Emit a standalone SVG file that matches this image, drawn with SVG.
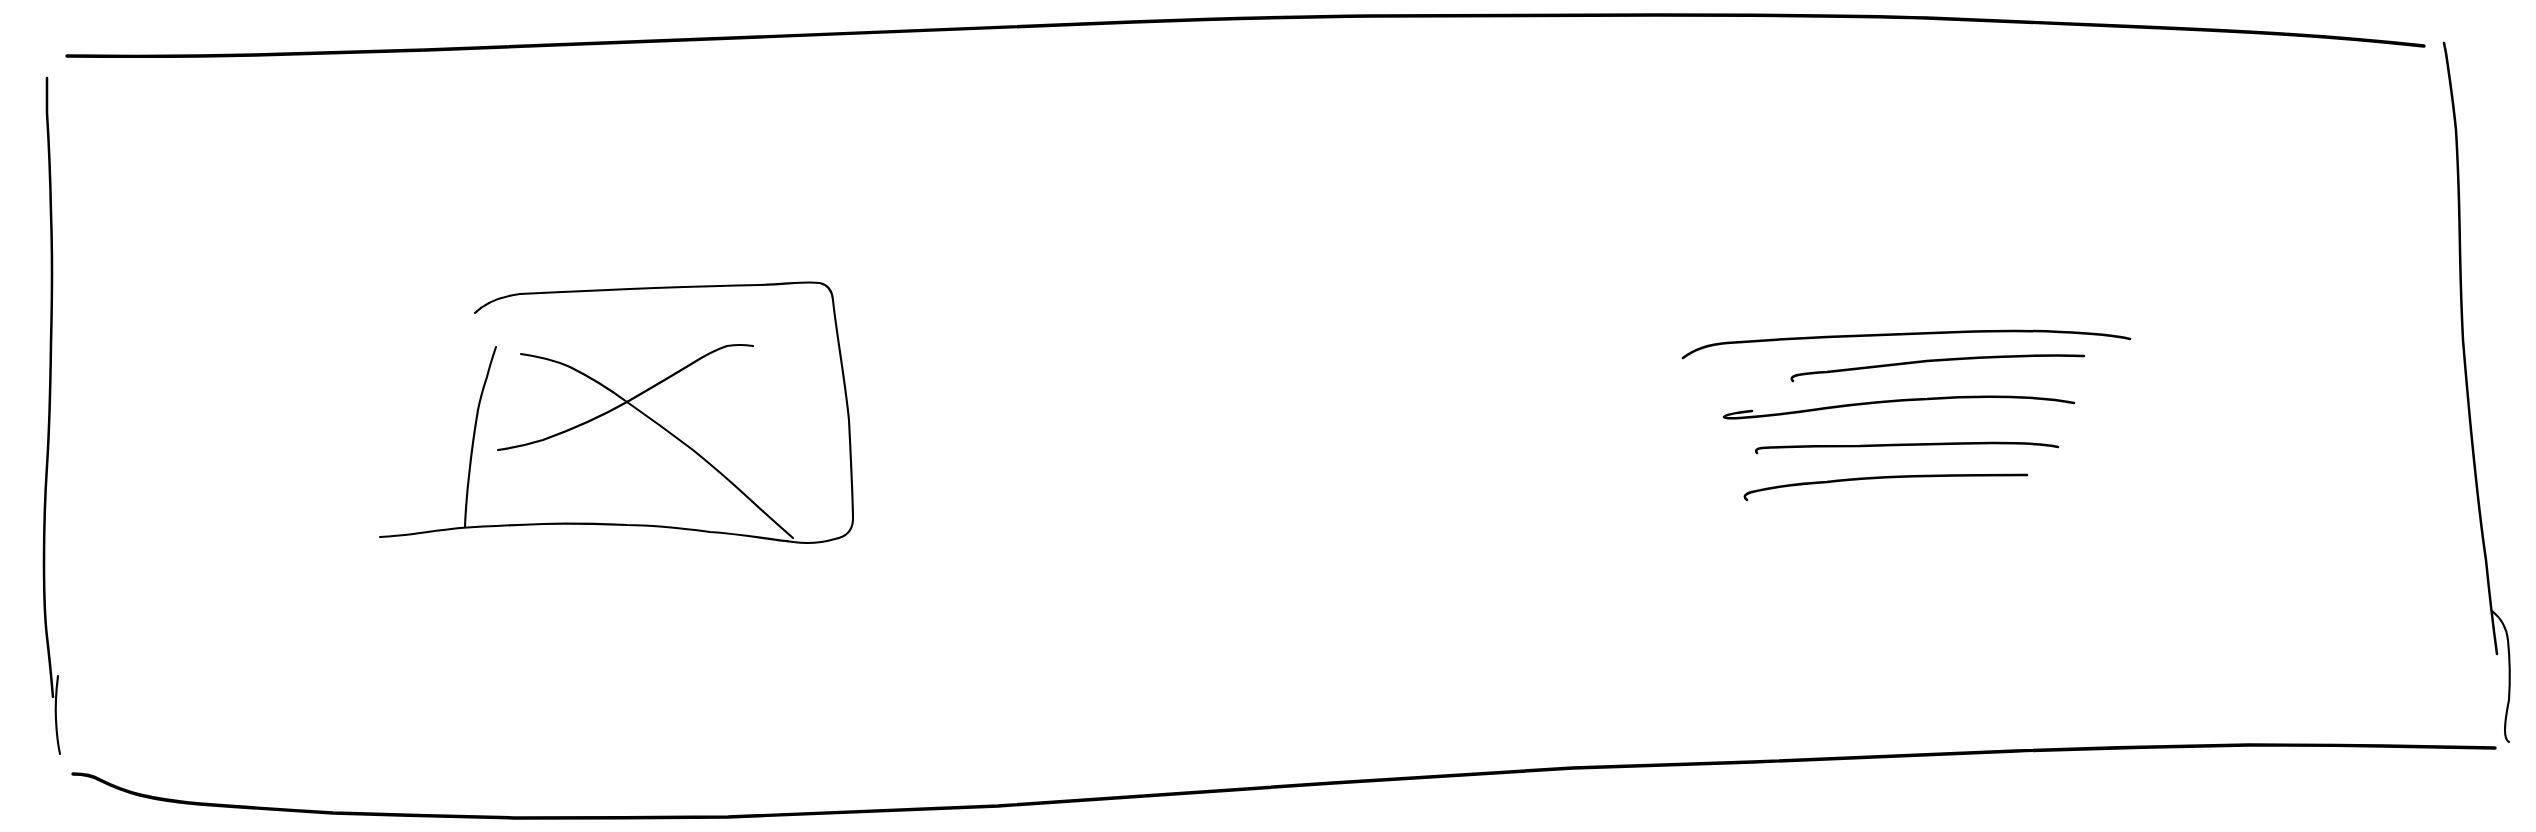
<svg xmlns="http://www.w3.org/2000/svg" width="2536" height="832" viewBox="0 0 2536 832">
<style>
path{fill:none;stroke:#000;stroke-linecap:round;stroke-linejoin:round}
.thick{stroke-width:3.4}
.mid{stroke-width:2.5}
.thin{stroke-width:2.1}
</style>
<rect width="2536" height="832" fill="#fff"/>
<g id="frame">
<path class="thick" d="M67,56 Q177,57 255,55 Q333,53 426,50 Q520,47 759,37 Q998,27 1133,22 Q1268,17 1372,16 Q1477,15 1655,15 Q1834,15 1927,18 Q2020,22 2118,26 Q2216,30 2282,34 Q2349,38 2424,46"/>
<path class="mid" d="M47,78 L47,113 Q50,160 51,213 Q53,267 51,343 Q50,420 47,466 Q44,512 44,562 Q44,612 47,637 Q50,662 53,697"/>
<path class="thin" d="M58,676 Q55,700 56,720 Q57,740 60,754"/>
<path class="thick" d="M73,774 Q90,774 100,780 Q120,790 140,795 Q165,801 200,804 Q266,809 333,813 Q426,816 520,818 Q624,818 728,817 Q863,812 998,806 Q1165,795 1333,783 Q1453,775 1573,768 Q1663,765 1753,762 Q1884,756 2016,751 Q2132,747 2249,745 Q2316,745 2383,746 L2495,748"/>
<path class="mid" d="M2444,43 L2446,53 Q2453,100 2456,130 Q2459,180 2460,250 Q2461,300 2463,340 Q2468,400 2472,440 Q2480,520 2486,560 Q2491,610 2497,654"/>
<path class="thin" d="M2492,611 Q2506,622 2508,640 Q2511,670 2509,700 Q2505,720 2505,730 Q2505,740 2509,742"/>
</g>
<g id="image-placeholder">
<path class="thin" d="M475,313 Q490,298 520,294 C600,290 700,286 760,285 C790,284 805,281 820,283 Q832,286 833,300 C836,330 845,380 849,420 C851,460 853,500 853,520 Q852,536 835,539 Q815,545 793,542 C760,538 740,534 710,532 C680,528 650,525 627,525 C600,524 570,523 543,524 C515,525 490,526 460,528 C430,531 405,536 380,537"/>
<path class="thin" d="M496,347 Q490,365 487,377 Q481,395 478,410 Q473,440 470,467 Q466,500 465,527"/>
<path class="thin" d="M521,354 Q550,358 570,367 Q600,382 627,402 Q660,425 693,450 Q720,472 743,493 Q770,518 793,538"/>
<path class="thin" d="M498,450 Q520,447 543,440 Q590,423 627,402 Q665,380 693,363 Q712,351 727,346 Q740,344 753,346"/>
</g>
<g id="text-lines">
<path class="mid" d="M1683,358 Q1700,345 1727,343 Q1780,339 1827,337 Q1900,334 1960,332 Q2020,330 2060,332 Q2110,334 2130,339"/>
<path class="mid" d="M1793,381 Q1789,377 1798,375 Q1810,373 1827,372 Q1880,366 1927,361 Q1980,357 2027,356 Q2060,355 2084,356"/>
<path class="mid" d="M1752,411 Q1725,414 1724,417 Q1726,419 1740,418 Q1780,415 1827,408 Q1880,401 1927,399 Q1970,396 2010,397 Q2050,398 2074,403"/>
<path class="mid" d="M1757,453 Q1754,449 1762,448 Q1800,446 1860,446 Q1930,444 1993,443 Q2040,443 2058,447"/>
<path class="mid" d="M1747,500 Q1741,495 1752,492 Q1780,485 1827,482 Q1870,477 1927,476 Q1980,475 2027,475"/>
</g>
</svg>
